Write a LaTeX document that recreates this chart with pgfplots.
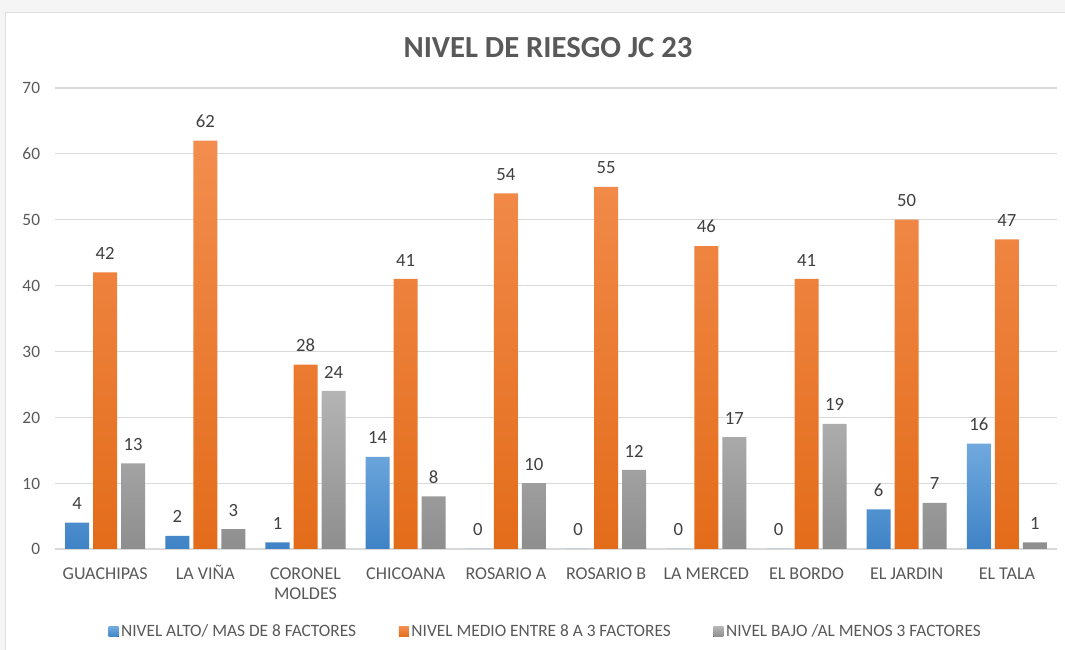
\documentclass[border=0pt]{standalone}
\usepackage{fontspec}
\setmainfont{Carlito}
\usepackage{pgfplots}
\pgfplotsset{compat=1.18}
\definecolor{txt}{HTML}{595959}
\definecolor{lbl}{HTML}{404040}
\definecolor{gridc}{HTML}{D9D9D9}
\definecolor{bluetop}{HTML}{70A9DE}
\definecolor{bluebot}{HTML}{3F83C6}
\definecolor{orgtop}{HTML}{F38D4E}
\definecolor{orgbot}{HTML}{E36C1A}
\definecolor{grytop}{HTML}{B4B4B4}
\definecolor{grybot}{HTML}{8E8E8E}
\begin{document}
\begin{tikzpicture}[x=0.75pt,y=0.75pt]
% screenshot frame
\fill[gray!8] (0,0) rectangle (1065,650);
\fill[white] (5,0) rectangle (1065,638);
\draw[gray!25] (5,0) -- (5,638) -- (1065,638);
\begin{axis}[
  at={(41.25pt,75.75pt)}, anchor=south west,
  scale only axis, width=751.5pt, height=345.75pt,
  ybar=3pt, bar width=18pt,
  xmin=-0.5, xmax=9.5, ymin=0, ymax=70,
  xtick={0,...,9},
  xticklabels={GUACHIPAS, LA VIÑA, {CORONEL\\MOLDES}, CHICOANA, ROSARIO A, ROSARIO B, LA MERCED, EL BORDO, EL JARDIN, EL TALA},
  ytick={0,10,...,70},
  ymajorgrids, grid style={gridc, line width=0.9pt},
  axis line style={draw=none},
  major tick length=0pt,
  /pgf/number format/assume math mode=true,
  tick label style={font=\fontsize{13.5}{15}\selectfont, text=txt},
  typeset ticklabels with strut,
  yticklabel style={inner sep=0pt, xshift=-11pt, yshift=-1.5pt, font=\fontsize{13}{15}\selectfont},
  xticklabel style={inner sep=0pt, anchor=north, yshift=-12pt, align=center},
  nodes near coords,
  every node near coord/.append style={font=\fontsize{14}{15}\selectfont, text=lbl, inner sep=0pt, anchor=south, yshift=9.5pt},
  title={NIVEL DE RIESGO JC 23},
  title style={font=\bfseries\fontsize{23}{26}\selectfont, text=txt, at={(0.492,1.07)}, anchor=center},
  legend style={at={(0.49,-0.18)}, anchor=center, legend columns=3, draw=none, fill=none,
    font=\fontsize{13}{15}\selectfont, text=txt,
    /tikz/every even column/.append style={column sep=30pt}},
  legend image code/.code={\fill[#1] (0pt,-3.75pt) rectangle (7.5pt,3.75pt);},
]
\addplot[draw=none, top color=bluetop, bottom color=bluebot] coordinates {
  (0,4) (1,2) (2,1) (3,14) (4,0) (5,0) (6,0) (7,0) (8,6) (9,16)};
\addplot[draw=none, top color=orgtop, bottom color=orgbot] coordinates {
  (0,42) (1,62) (2,28) (3,41) (4,54) (5,55) (6,46) (7,41) (8,50) (9,47)};
\addplot[draw=none, top color=grytop, bottom color=grybot] coordinates {
  (0,13) (1,3) (2,24) (3,8) (4,10) (5,12) (6,17) (7,19) (8,7) (9,1)};
\legend{NIVEL ALTO/ MAS DE 8 FACTORES, NIVEL MEDIO ENTRE 8 A 3 FACTORES, NIVEL BAJO /AL MENOS 3 FACTORES}
\end{axis}
\pgfresetboundingbox
\useasboundingbox (0,0) rectangle (1065,650);
\end{tikzpicture}
\end{document}
